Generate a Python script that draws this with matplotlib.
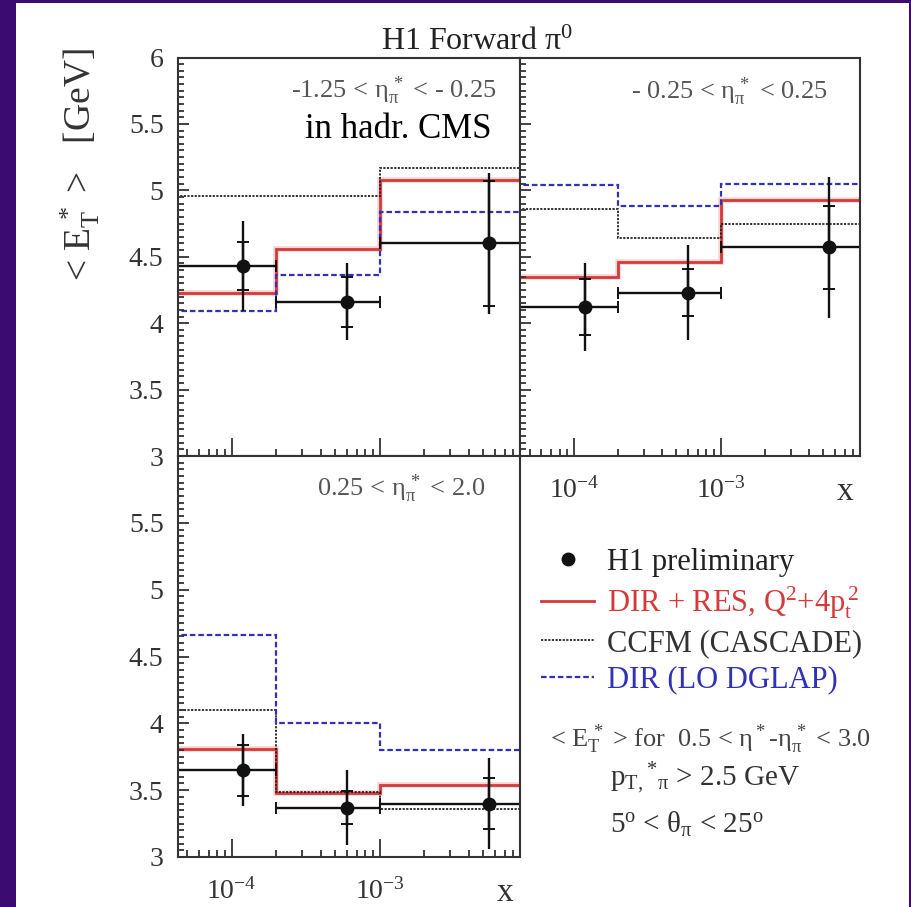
import numpy as np
import matplotlib
matplotlib.use('Agg')
import matplotlib.pyplot as plt
from matplotlib.patches import Rectangle
from matplotlib.lines import Line2D
from matplotlib.ticker import LogLocator, MultipleLocator, NullFormatter, FuncFormatter

plt.rcParams['font.family'] = 'Liberation Serif'
plt.rcParams['mathtext.fontset'] = 'custom'
plt.rcParams['mathtext.rm'] = 'Liberation Serif'
plt.rcParams['mathtext.it'] = 'Liberation Serif'
plt.rcParams['mathtext.bf'] = 'Liberation Serif:bold'
plt.rcParams['mathtext.default'] = 'regular'

# binning in x and bin centres of the measured points
bin_edges = [4.0e-5, 2.0e-4, 1.0e-3, 1.0e-2]
x_points = [1.2e-4, 6.0e-4, 5.5e-3]

# -1.25 < eta < -0.25
dataA = [4.43, 4.16, 4.60]
statA = [0.18, 0.19, 0.47]
totA = [0.34, 0.29, 0.53]
resA = [4.23, 4.56, 5.08]
ccfmA = [4.96, 4.96, 5.17]
dglapA = [4.09, 4.36, 4.84]

# -0.25 < eta < 0.25
dataB = [4.12, 4.23, 4.57]
statB = [0.21, 0.175, 0.31]
totB = [0.33, 0.355, 0.53]
resB = [4.35, 4.46, 4.93]
ccfmB = [4.86, 4.64, 4.75]
dglapB = [5.04, 4.88, 5.05]

# 0.25 < eta < 2.0
dataC = [3.65, 3.37, 3.40]
statC = [0.19, 0.125, 0.19]
totC = [0.27, 0.28, 0.34]
resC = [3.81, 3.48, 3.54]
ccfmC = [4.10, 3.49, 3.36]
dglapC = [4.66, 4.00, 3.80]

legend_labels = ['H1 preliminary', r'DIR + RES, Q$^2$+4p$_t^{\,2}$',
                 'CCFM (CASCADE)', 'DIR (LO DGLAP)']

RED = '#d43a3a'
BLUE = '#3030b8'
W, H = 911, 907


def fx(px):
    return px / W


def fy(py):
    return 1 - py / H


def draw_panel(ax, data, stat, tot, res, ccfm, dglap):
    ax.stairs(res, bin_edges, baseline=None, color='#f8d4d4', lw=4)
    ax.stairs(res, bin_edges, baseline=None, color=RED, lw=2)
    ax.stairs(ccfm, bin_edges, baseline=None, color='#222222', lw=1.3, ls=(0, (1.2, 0.8)))
    ax.stairs(dglap, bin_edges, baseline=None, color=BLUE, lw=1.6, ls=(0, (2.5, 1.3)))
    xp = np.array(x_points)
    e = np.array(bin_edges)
    xerr = [xp - e[:-1], e[1:] - xp]
    ax.errorbar(xp, data, xerr=xerr, fmt='none', ecolor='#111111', elinewidth=1.7,
                capsize=4, capthick=1.4)
    ax.errorbar(xp, data, yerr=tot, fmt='none', ecolor='#111111', elinewidth=1.7, capsize=0)
    ax.errorbar(xp, data, yerr=stat, fmt='o', color='#111111', ms=9, elinewidth=1.7,
                capsize=4.5, capthick=1.4)


def setup(ax, ylab, xlab):
    ax.set_xscale('log')
    ax.set_xlim(4.3e-5, 8.9e-3)
    ax.set_ylim(3, 6)
    ax.yaxis.set_major_locator(MultipleLocator(0.5))
    ax.yaxis.set_minor_locator(MultipleLocator(0.05))
    ax.yaxis.set_major_formatter(FuncFormatter(lambda v, p: '%g' % v))
    ax.xaxis.set_major_locator(LogLocator(10))
    ax.xaxis.set_minor_locator(LogLocator(10, subs=np.arange(2, 10)))
    ax.xaxis.set_minor_formatter(NullFormatter())
    ax.tick_params(axis='both', which='both', direction='in', color='#333333',
                   labelcolor='#333333', top=False, right=False, width=1.3)
    ax.tick_params(axis='y', which='major', length=8, labelsize=20, pad=10, labelleft=ylab)
    ax.tick_params(axis='y', which='minor', length=4)
    ax.tick_params(axis='x', which='major', length=13, labelsize=20, pad=15, labelbottom=xlab)
    ax.tick_params(axis='x', which='minor', length=5)
    for s in ax.spines.values():
        s.set_linewidth(1.5)
        s.set_color('#333333')
    if xlab:
        ax.annotate('x', xy=(1, 0), xycoords='axes fraction', xytext=(-5, -32),
                    textcoords='offset points', ha='right', va='baseline',
                    fontsize=24, color='#333333')


fig = plt.figure(figsize=(W / 100, H / 100), dpi=100, facecolor='#3b0b72')
fig.add_artist(Rectangle((fx(16), 0), fx(909) - fx(16), fy(3), transform=fig.transFigure,
                         facecolor='white', edgecolor='none', zorder=-1))

ax1 = fig.add_axes([fx(177.5), fy(456), fx(520) - fx(177.5), fy(57.5) - fy(456)])
ax2 = fig.add_axes([fx(520), fy(456), fx(860) - fx(520), fy(57.5) - fy(456)])
ax3 = fig.add_axes([fx(177.5), fy(857), fx(520) - fx(177.5), fy(456) - fy(857)])

draw_panel(ax1, dataA, statA, totA, resA, ccfmA, dglapA)
draw_panel(ax2, dataB, statB, totB, resB, ccfmB, dglapB)
draw_panel(ax3, dataC, statC, totC, resC, ccfmC, dglapC)

setup(ax1, True, False)
setup(ax2, False, True)
setup(ax3, True, True)
ax3.yaxis.set_major_formatter(FuncFormatter(lambda v, p: '' if v > 5.9 else '%g' % v))

fig.text(fx(381), fy(50), r'H1 Forward π$^0$', fontsize=23, color='#222222', va='baseline')
fig.text(fx(80), fy(165), r'< E$_T^{\,*}$ >   [GeV]', rotation=90, ha='center', va='center',
         fontsize=27, color='#333333')

fig.text(fx(497), fy(98), r'-1.25 < η$_π^{\,*}$ < - 0.25', ha='right', va='baseline',
         fontsize=19, color='#555555')
fig.text(fx(492), fy(138), 'in hadr. CMS', ha='right', va='baseline', fontsize=25, color='black')
fig.text(fx(828), fy(99), r'- 0.25 < η$_π^{\,*}$ < 0.25', ha='right', va='baseline',
         fontsize=19, color='#555555')
fig.text(fx(485), fy(496), r'0.25 < η$_π^{\,*}$ < 2.0', ha='right', va='baseline',
         fontsize=19, color='#555555')

handles = [Line2D([], [], marker='o', ls='none', color='#111111', ms=9),
           Line2D([], [], color=RED, lw=2),
           Line2D([], [], color='#222222', lw=1.3, ls=(0, (1.2, 0.8))),
           Line2D([], [], color=BLUE, lw=1.6, ls=(0, (2.5, 1.3)))]
fig.legend(handles, legend_labels, loc='upper left', bbox_to_anchor=(fx(541), fy(548)),
           frameon=False, fontsize=22, handlelength=1.75, handletextpad=0.4,
           labelspacing=0.25, borderpad=0, borderaxespad=0,
           labelcolor=['#222222', RED, '#333333', BLUE])

fig.text(fx(550), fy(747), r'< E$_T^{\,*}$ > for  0.5 < η$^*$-η$_π^{\,*}$ < 3.0', va='baseline',
         fontsize=19, color='#444444')
fig.text(fx(610), fy(787), r'p$_{T,}{}^{*}{}_{π}$ > 2.5 GeV', va='baseline',
         fontsize=21, color='#333333')
fig.text(fx(610), fy(833), r'5$^o$ < θ$_π$ < 25$^o$', va='baseline',
         fontsize=21, color='#333333')

fig.savefig('out.png', dpi=100, facecolor=fig.get_facecolor())
